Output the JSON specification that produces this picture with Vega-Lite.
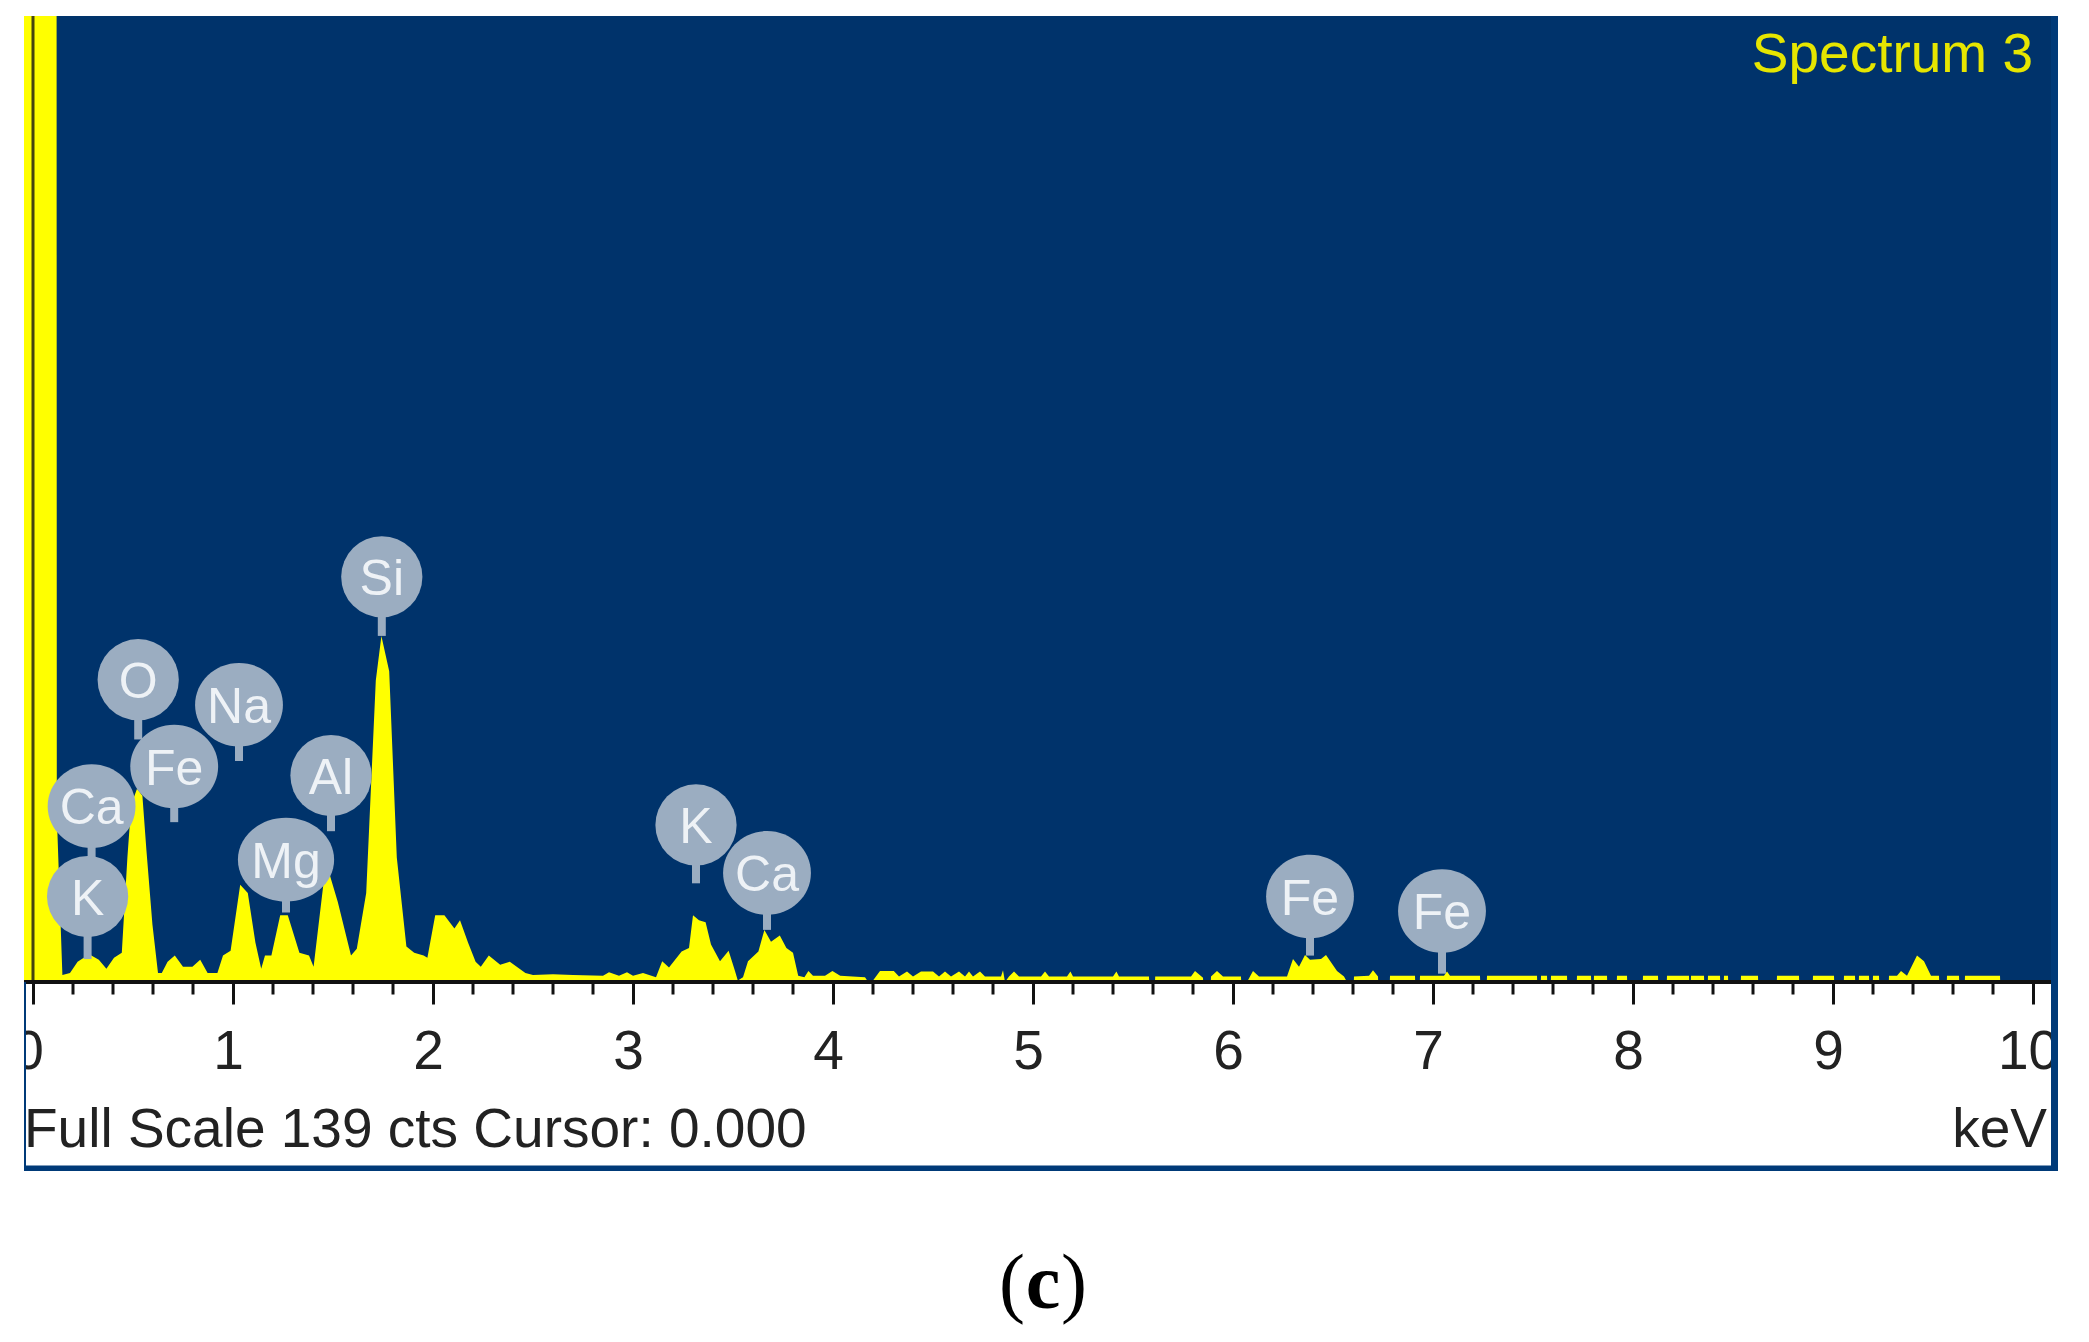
{
  "$schema": "https://vega.github.io/schema/vega-lite/v6.json",
  "width": 2027,
  "height": 966,
  "autosize": "none",
  "padding": {"left": 24, "top": 16, "right": 38, "bottom": 360},
  "background": "white",
  "view": {"fill": "#00336b", "stroke": null},
  "config": {"font": "Liberation Sans"},
  "datasets": {
    "spectrum": [
      {"keV": -0.045, "cts": 139}, {"keV": 0.118, "cts": 139}, {"keV": 0.119, "cts": 24}, {"keV": 0.147, "cts": 1},
      {"keV": 0.185, "cts": 1.3}, {"keV": 0.223, "cts": 2.9}, {"keV": 0.281, "cts": 4}, {"keV": 0.329, "cts": 3.2},
      {"keV": 0.367, "cts": 1.9}, {"keV": 0.405, "cts": 3.5}, {"keV": 0.444, "cts": 4.2}, {"keV": 0.472, "cts": 17.9},
      {"keV": 0.491, "cts": 25.5}, {"keV": 0.52, "cts": 27.8}, {"keV": 0.547, "cts": 26.8}, {"keV": 0.567, "cts": 19},
      {"keV": 0.597, "cts": 8.3}, {"keV": 0.625, "cts": 1.3}, {"keV": 0.644, "cts": 1.3}, {"keV": 0.673, "cts": 2.9},
      {"keV": 0.709, "cts": 3.8}, {"keV": 0.75, "cts": 2.2}, {"keV": 0.797, "cts": 2.2}, {"keV": 0.836, "cts": 3.2},
      {"keV": 0.873, "cts": 1.3}, {"keV": 0.922, "cts": 1.3}, {"keV": 0.95, "cts": 3.8}, {"keV": 0.988, "cts": 4.5},
      {"keV": 1.036, "cts": 14}, {"keV": 1.074, "cts": 12.8}, {"keV": 1.112, "cts": 5.7}, {"keV": 1.141, "cts": 1.9},
      {"keV": 1.16, "cts": 3.8}, {"keV": 1.192, "cts": 3.8}, {"keV": 1.236, "cts": 9.6}, {"keV": 1.274, "cts": 9.6},
      {"keV": 1.332, "cts": 4.2}, {"keV": 1.38, "cts": 3.8}, {"keV": 1.403, "cts": 2.2}, {"keV": 1.457, "cts": 15.3},
      {"keV": 1.485, "cts": 15.3}, {"keV": 1.524, "cts": 11.5}, {"keV": 1.59, "cts": 3.8}, {"keV": 1.619, "cts": 4.8},
      {"keV": 1.666, "cts": 12.8}, {"keV": 1.714, "cts": 43.4}, {"keV": 1.742, "cts": 49.8}, {"keV": 1.781, "cts": 44.7},
      {"keV": 1.819, "cts": 17.9}, {"keV": 1.867, "cts": 5.1}, {"keV": 1.906, "cts": 4.2}, {"keV": 1.953, "cts": 3.8},
      {"keV": 1.972, "cts": 3.5}, {"keV": 2.011, "cts": 9.6}, {"keV": 2.057, "cts": 9.6}, {"keV": 2.107, "cts": 7.7},
      {"keV": 2.135, "cts": 8.9}, {"keV": 2.175, "cts": 5.7}, {"keV": 2.213, "cts": 2.9}, {"keV": 2.239, "cts": 2.2},
      {"keV": 2.279, "cts": 3.8}, {"keV": 2.336, "cts": 2.5}, {"keV": 2.384, "cts": 2.9}, {"keV": 2.462, "cts": 1.3},
      {"keV": 2.5, "cts": 1}, {"keV": 2.6, "cts": 1.1}, {"keV": 2.7, "cts": 1}, {"keV": 2.85, "cts": 0.9},
      {"keV": 2.88, "cts": 1.4}, {"keV": 2.93, "cts": 0.9}, {"keV": 2.97, "cts": 1.4}, {"keV": 3.0, "cts": 0.9},
      {"keV": 3.05, "cts": 1.3}, {"keV": 3.115, "cts": 0.7}, {"keV": 3.146, "cts": 3}, {"keV": 3.18, "cts": 2.1},
      {"keV": 3.243, "cts": 4.4}, {"keV": 3.28, "cts": 4.9}, {"keV": 3.3, "cts": 9.6}, {"keV": 3.33, "cts": 8.9},
      {"keV": 3.363, "cts": 8.6}, {"keV": 3.39, "cts": 5.4}, {"keV": 3.435, "cts": 3}, {"keV": 3.478, "cts": 4.5},
      {"keV": 3.51, "cts": 1.6}, {"keV": 3.524, "cts": 0.2}, {"keV": 3.55, "cts": 0.7}, {"keV": 3.575, "cts": 3},
      {"keV": 3.627, "cts": 4.4}, {"keV": 3.657, "cts": 7.5}, {"keV": 3.69, "cts": 5.8}, {"keV": 3.734, "cts": 6.7},
      {"keV": 3.767, "cts": 4.9}, {"keV": 3.8, "cts": 4.2}, {"keV": 3.826, "cts": 0.9}, {"keV": 3.857, "cts": 0.7},
      {"keV": 3.877, "cts": 1.6}, {"keV": 3.9, "cts": 0.9}, {"keV": 3.96, "cts": 0.9}, {"keV": 3.997, "cts": 1.6},
      {"keV": 4.036, "cts": 0.9}, {"keV": 4.16, "cts": 0.7}, {"keV": 4.176, "cts": 0}, {"keV": 4.2, "cts": 0.2},
      {"keV": 4.235, "cts": 1.6}, {"keV": 4.304, "cts": 1.6}, {"keV": 4.33, "cts": 0.8}, {"keV": 4.37, "cts": 1.5},
      {"keV": 4.4, "cts": 0.8}, {"keV": 4.44, "cts": 1.5}, {"keV": 4.5, "cts": 1.5}, {"keV": 4.53, "cts": 0.8},
      {"keV": 4.56, "cts": 1.5}, {"keV": 4.59, "cts": 0.8}, {"keV": 4.63, "cts": 1.5}, {"keV": 4.66, "cts": 0.8},
      {"keV": 4.68, "cts": 1.5}, {"keV": 4.7, "cts": 0.8}, {"keV": 4.735, "cts": 1.5}, {"keV": 4.76, "cts": 0.8},
      {"keV": 4.84, "cts": 0.8}, {"keV": 4.85, "cts": 1.7}, {"keV": 4.86, "cts": 0}, {"keV": 4.88, "cts": 0.8},
      {"keV": 4.905, "cts": 1.5}, {"keV": 4.93, "cts": 0.8}, {"keV": 5.04, "cts": 0.8}, {"keV": 5.06, "cts": 1.5},
      {"keV": 5.08, "cts": 0.8}, {"keV": 5.17, "cts": 0.8}, {"keV": 5.187, "cts": 1.5}, {"keV": 5.2, "cts": 0.8},
      {"keV": 5.4, "cts": 0.8}, {"keV": 5.417, "cts": 1.5}, {"keV": 5.43, "cts": 0.8}, {"keV": 5.58, "cts": 0.8},
      {"keV": 5.581, "cts": 0}, {"keV": 5.61, "cts": 0}, {"keV": 5.611, "cts": 0.8}, {"keV": 5.79, "cts": 0.8},
      {"keV": 5.81, "cts": 1.6}, {"keV": 5.85, "cts": 0.6}, {"keV": 5.851, "cts": 0}, {"keV": 5.889, "cts": 0},
      {"keV": 5.89, "cts": 0.8}, {"keV": 5.92, "cts": 1.6}, {"keV": 5.95, "cts": 0.8}, {"keV": 6.04, "cts": 0.8},
      {"keV": 6.041, "cts": 0}, {"keV": 6.07, "cts": 0}, {"keV": 6.1, "cts": 1.6}, {"keV": 6.13, "cts": 0.8},
      {"keV": 6.27, "cts": 0.8}, {"keV": 6.3, "cts": 3.3}, {"keV": 6.33, "cts": 2.2}, {"keV": 6.36, "cts": 3.9},
      {"keV": 6.385, "cts": 3.2}, {"keV": 6.44, "cts": 3.3}, {"keV": 6.465, "cts": 3.9}, {"keV": 6.52, "cts": 1.6},
      {"keV": 6.555, "cts": 0.8}, {"keV": 6.57, "cts": 0}, {"keV": 6.604, "cts": 0}, {"keV": 6.605, "cts": 0.8},
      {"keV": 6.68, "cts": 0.9}, {"keV": 6.7, "cts": 1.7}, {"keV": 6.725, "cts": 0.8}, {"keV": 6.726, "cts": 0},
      {"keV": 6.784, "cts": 0}, {"keV": 6.785, "cts": 0.9}, {"keV": 6.91, "cts": 0.9}, {"keV": 6.911, "cts": 0},
      {"keV": 6.934, "cts": 0}, {"keV": 6.935, "cts": 0.9}, {"keV": 7.055, "cts": 0.9}, {"keV": 7.07, "cts": 1.5},
      {"keV": 7.085, "cts": 0.9}, {"keV": 7.235, "cts": 0.9}, {"keV": 7.236, "cts": 0}, {"keV": 7.269, "cts": 0},
      {"keV": 7.27, "cts": 0.9}, {"keV": 7.52, "cts": 0.9}, {"keV": 7.521, "cts": 0}, {"keV": 7.539, "cts": 0},
      {"keV": 7.54, "cts": 0.9}, {"keV": 7.57, "cts": 0.9}, {"keV": 7.571, "cts": 0}, {"keV": 7.589, "cts": 0},
      {"keV": 7.59, "cts": 0.9}, {"keV": 7.67, "cts": 0.9}, {"keV": 7.671, "cts": 0}, {"keV": 7.719, "cts": 0},
      {"keV": 7.72, "cts": 0.9}, {"keV": 7.79, "cts": 0.9}, {"keV": 7.791, "cts": 0}, {"keV": 7.804, "cts": 0},
      {"keV": 7.805, "cts": 0.9}, {"keV": 7.87, "cts": 0.9}, {"keV": 7.871, "cts": 0}, {"keV": 7.919, "cts": 0},
      {"keV": 7.92, "cts": 0.9}, {"keV": 7.97, "cts": 0.9}, {"keV": 7.971, "cts": 0}, {"keV": 8.049, "cts": 0},
      {"keV": 8.05, "cts": 0.9}, {"keV": 8.125, "cts": 0.9}, {"keV": 8.126, "cts": 0}, {"keV": 8.169, "cts": 0},
      {"keV": 8.17, "cts": 0.9}, {"keV": 8.28, "cts": 0.9}, {"keV": 8.281, "cts": 0}, {"keV": 8.289, "cts": 0},
      {"keV": 8.29, "cts": 0.9}, {"keV": 8.355, "cts": 0.9}, {"keV": 8.356, "cts": 0}, {"keV": 8.374, "cts": 0},
      {"keV": 8.375, "cts": 0.9}, {"keV": 8.435, "cts": 0.9}, {"keV": 8.436, "cts": 0}, {"keV": 8.454, "cts": 0},
      {"keV": 8.455, "cts": 0.9}, {"keV": 8.475, "cts": 0.9}, {"keV": 8.476, "cts": 0}, {"keV": 8.539, "cts": 0},
      {"keV": 8.54, "cts": 0.9}, {"keV": 8.625, "cts": 0.9}, {"keV": 8.626, "cts": 0}, {"keV": 8.719, "cts": 0},
      {"keV": 8.72, "cts": 0.9}, {"keV": 8.83, "cts": 0.9}, {"keV": 8.831, "cts": 0}, {"keV": 8.899, "cts": 0},
      {"keV": 8.9, "cts": 0.9}, {"keV": 9.005, "cts": 0.9}, {"keV": 9.006, "cts": 0}, {"keV": 9.054, "cts": 0},
      {"keV": 9.055, "cts": 0.9}, {"keV": 9.11, "cts": 0.9}, {"keV": 9.111, "cts": 0}, {"keV": 9.129, "cts": 0},
      {"keV": 9.13, "cts": 0.9}, {"keV": 9.18, "cts": 0.9}, {"keV": 9.181, "cts": 0}, {"keV": 9.199, "cts": 0},
      {"keV": 9.2, "cts": 0.9}, {"keV": 9.23, "cts": 0.9}, {"keV": 9.231, "cts": 0}, {"keV": 9.279, "cts": 0},
      {"keV": 9.28, "cts": 0.9}, {"keV": 9.32, "cts": 0.9}, {"keV": 9.34, "cts": 1.6}, {"keV": 9.37, "cts": 0.9},
      {"keV": 9.42, "cts": 3.8}, {"keV": 9.455, "cts": 3}, {"keV": 9.49, "cts": 0.9}, {"keV": 9.53, "cts": 0.9},
      {"keV": 9.531, "cts": 0}, {"keV": 9.569, "cts": 0}, {"keV": 9.57, "cts": 0.9}, {"keV": 9.63, "cts": 0.9},
      {"keV": 9.631, "cts": 0}, {"keV": 9.659, "cts": 0}, {"keV": 9.66, "cts": 0.9}, {"keV": 9.835, "cts": 0.9},
      {"keV": 9.836, "cts": 0}, {"keV": 10.09, "cts": 0}
    ],
    "peaks": [
      {"label": "O", "keV": 0.526, "cts": 43.5, "tip": 34.9, "bubble": "round"},
      {"label": "Na", "keV": 1.03, "cts": 39.9, "tip": 31.8, "bubble": "wide"},
      {"label": "K", "keV": 0.273, "cts": 12.3, "tip": 3.3, "bubble": "round"},
      {"label": "Ca", "keV": 0.293, "cts": 25.3, "tip": 17.6, "bubble": "wide"},
      {"label": "Fe", "keV": 0.706, "cts": 31, "tip": 23, "bubble": "wide"},
      {"label": "Al", "keV": 1.49, "cts": 29.7, "tip": 21.7, "bubble": "round"},
      {"label": "Mg", "keV": 1.265, "cts": 17.6, "tip": 10, "bubble": "widest"},
      {"label": "Si", "keV": 1.744, "cts": 58.3, "tip": 49.8, "bubble": "round"},
      {"label": "K", "keV": 3.315, "cts": 22.6, "tip": 14.2, "bubble": "round"},
      {"label": "Ca", "keV": 3.67, "cts": 15.7, "tip": 7.5, "bubble": "wide"},
      {"label": "Fe", "keV": 6.385, "cts": 12.3, "tip": 3.8, "bubble": "wide"},
      {"label": "Fe", "keV": 7.045, "cts": 10.2, "tip": 1.2, "bubble": "wide"}
    ],
    "minorTicks": [
      {"keV": 0.2, "cts": 0, "end": -1.8}, {"keV": 0.4, "cts": 0, "end": -1.8}, {"keV": 0.6, "cts": 0, "end": -1.8}, {"keV": 0.8, "cts": 0, "end": -1.8},
      {"keV": 1.2, "cts": 0, "end": -1.8}, {"keV": 1.4, "cts": 0, "end": -1.8}, {"keV": 1.6, "cts": 0, "end": -1.8}, {"keV": 1.8, "cts": 0, "end": -1.8},
      {"keV": 2.2, "cts": 0, "end": -1.8}, {"keV": 2.4, "cts": 0, "end": -1.8}, {"keV": 2.6, "cts": 0, "end": -1.8}, {"keV": 2.8, "cts": 0, "end": -1.8},
      {"keV": 3.2, "cts": 0, "end": -1.8}, {"keV": 3.4, "cts": 0, "end": -1.8}, {"keV": 3.6, "cts": 0, "end": -1.8}, {"keV": 3.8, "cts": 0, "end": -1.8},
      {"keV": 4.2, "cts": 0, "end": -1.8}, {"keV": 4.4, "cts": 0, "end": -1.8}, {"keV": 4.6, "cts": 0, "end": -1.8}, {"keV": 4.8, "cts": 0, "end": -1.8},
      {"keV": 5.2, "cts": 0, "end": -1.8}, {"keV": 5.4, "cts": 0, "end": -1.8}, {"keV": 5.6, "cts": 0, "end": -1.8}, {"keV": 5.8, "cts": 0, "end": -1.8},
      {"keV": 6.2, "cts": 0, "end": -1.8}, {"keV": 6.4, "cts": 0, "end": -1.8}, {"keV": 6.6, "cts": 0, "end": -1.8}, {"keV": 6.8, "cts": 0, "end": -1.8},
      {"keV": 7.2, "cts": 0, "end": -1.8}, {"keV": 7.4, "cts": 0, "end": -1.8}, {"keV": 7.6, "cts": 0, "end": -1.8}, {"keV": 7.8, "cts": 0, "end": -1.8},
      {"keV": 8.2, "cts": 0, "end": -1.8}, {"keV": 8.4, "cts": 0, "end": -1.8}, {"keV": 8.6, "cts": 0, "end": -1.8}, {"keV": 8.8, "cts": 0, "end": -1.8},
      {"keV": 9.2, "cts": 0, "end": -1.8}, {"keV": 9.4, "cts": 0, "end": -1.8}, {"keV": 9.6, "cts": 0, "end": -1.8}, {"keV": 9.8, "cts": 0, "end": -1.8}
    ]
  },
  "encoding": {
    "x": {
      "field": "keV",
      "type": "quantitative",
      "scale": {"domain": [-0.045, 10.09], "nice": false, "zero": false},
      "axis": {
        "title": null,
        "grid": false,
        "domain": false,
        "values": [0, 1, 2, 3, 4, 5, 6, 7, 8, 9, 10],
        "format": "d",
        "tickSize": 22,
        "tickWidth": 3,
        "tickColor": "#111111",
        "labelFontSize": 55,
        "labelColor": "#222222",
        "labelFont": "Liberation Sans",
        "labelBaseline": "alphabetic",
        "labelPadding": 64,
        "labelOffset": -5,
        "labelFlush": false,
        "labelBound": false,
        "labelOverlap": false
      }
    },
    "y": {
      "field": "cts",
      "type": "quantitative",
      "scale": {"domain": [0, 139], "nice": false, "zero": false},
      "axis": null
    }
  },
  "layer": [
    {
      "data": {"values": [
        {"keV": -0.2, "end": -0.045, "cts": -27.6, "top": 0},
        {"keV": 10.09, "end": 10.4, "cts": -27.6, "top": 0}
      ]},
      "mark": {"type": "rect", "color": "white"},
      "encoding": {"x2": {"field": "end"}, "y2": {"field": "top"}}
    },
    {
      "data": {"name": "spectrum"},
      "mark": {"type": "area", "color": "#ffff00", "interpolate": "linear"}
    },
    {
      "data": {"values": [{"keV": 0, "cts": 0, "top": 139}]},
      "mark": {"type": "rule", "color": "#45450f", "strokeWidth": 3},
      "encoding": {"y2": {"field": "top"}}
    },
    {
      "data": {"name": "minorTicks"},
      "mark": {"type": "rule", "color": "#111111", "strokeWidth": 3},
      "encoding": {"y2": {"field": "end"}}
    },
    {
      "data": {"values": [{"keV": -0.045, "end": 10.09, "cts": 0}]},
      "mark": {"type": "rule", "color": "#111111", "strokeWidth": 4},
      "encoding": {"x2": {"field": "end"}}
    },
    {
      "data": {"values": [
        {"keV": -0.045, "end": -0.035, "cts": -26.6, "top": 0},
        {"keV": 10.09, "end": 10.125, "cts": -27.2, "top": 139},
        {"keV": -0.045, "end": 10.125, "cts": -27.2, "top": -26.4}
      ]},
      "mark": {"type": "rect", "color": "#003a78"},
      "encoding": {"x2": {"field": "end"}, "y2": {"field": "top"}}
    },
    {
      "data": {"name": "peaks"},
      "mark": {"type": "rule", "color": "#9badc1", "strokeWidth": 8},
      "encoding": {"y2": {"field": "tip"}}
    },
    {
      "data": {"name": "peaks"},
      "transform": [{"filter": "datum.bubble == 'round'"}],
      "mark": {"type": "point", "shape": "circle", "filled": true, "opacity": 1, "color": "#9badc1", "size": 6600}
    },
    {
      "data": {"name": "peaks"},
      "transform": [{"filter": "datum.bubble == 'wide'"}],
      "mark": {
        "type": "point",
        "shape": "M-1.05,0A1.05,1 0 1,1 1.05,0A1.05,1 0 1,1 -1.05,0Z",
        "filled": true,
        "opacity": 1,
        "color": "#9badc1",
        "size": 7000
      }
    },
    {
      "data": {"name": "peaks"},
      "transform": [{"filter": "datum.bubble == 'widest'"}],
      "mark": {
        "type": "point",
        "shape": "M-1.15,0A1.15,1 0 1,1 1.15,0A1.15,1 0 1,1 -1.15,0Z",
        "filled": true,
        "opacity": 1,
        "color": "#9badc1",
        "size": 7000
      }
    },
    {
      "data": {"name": "peaks"},
      "mark": {"type": "text", "font": "Liberation Sans", "fontSize": 50, "color": "#eef2f6", "baseline": "middle", "dy": 3},
      "encoding": {"text": {"field": "label"}}
    },
    {
      "data": {"values": [{"keV": 10, "cts": 131, "text": "Spectrum 3"}]},
      "mark": {"type": "text", "font": "Liberation Sans", "fontSize": 55, "color": "#e6e600", "align": "right", "baseline": "alphabetic"},
      "encoding": {"text": {"field": "text"}}
    },
    {
      "data": {"values": [{"keV": -0.045, "cts": -23.7, "text": "Full Scale 139 cts Cursor: 0.000"}]},
      "mark": {"type": "text", "font": "Liberation Sans", "fontSize": 55, "color": "#222222", "align": "left", "baseline": "alphabetic"},
      "encoding": {"text": {"field": "text"}}
    },
    {
      "data": {"values": [{"keV": 10.07, "cts": -23.7, "text": "keV"}]},
      "mark": {"type": "text", "font": "Liberation Sans", "fontSize": 55, "color": "#222222", "align": "right", "baseline": "alphabetic"},
      "encoding": {"text": {"field": "text"}}
    },
    {
      "data": {"values": [{"keV": 4.895, "cts": -46.9, "text": "("}, {"keV": 5.205, "cts": -46.9, "text": ")"}]},
      "mark": {"type": "text", "font": "Liberation Serif", "fontSize": 78, "color": "#000000", "baseline": "alphabetic"},
      "encoding": {"text": {"field": "text"}}
    },
    {
      "data": {"values": [{"keV": 5.05, "cts": -46.9, "text": "c"}]},
      "mark": {"type": "text", "font": "Liberation Serif", "fontSize": 78, "fontWeight": "bold", "color": "#000000", "baseline": "alphabetic"},
      "encoding": {"text": {"field": "text"}}
    }
  ]
}
